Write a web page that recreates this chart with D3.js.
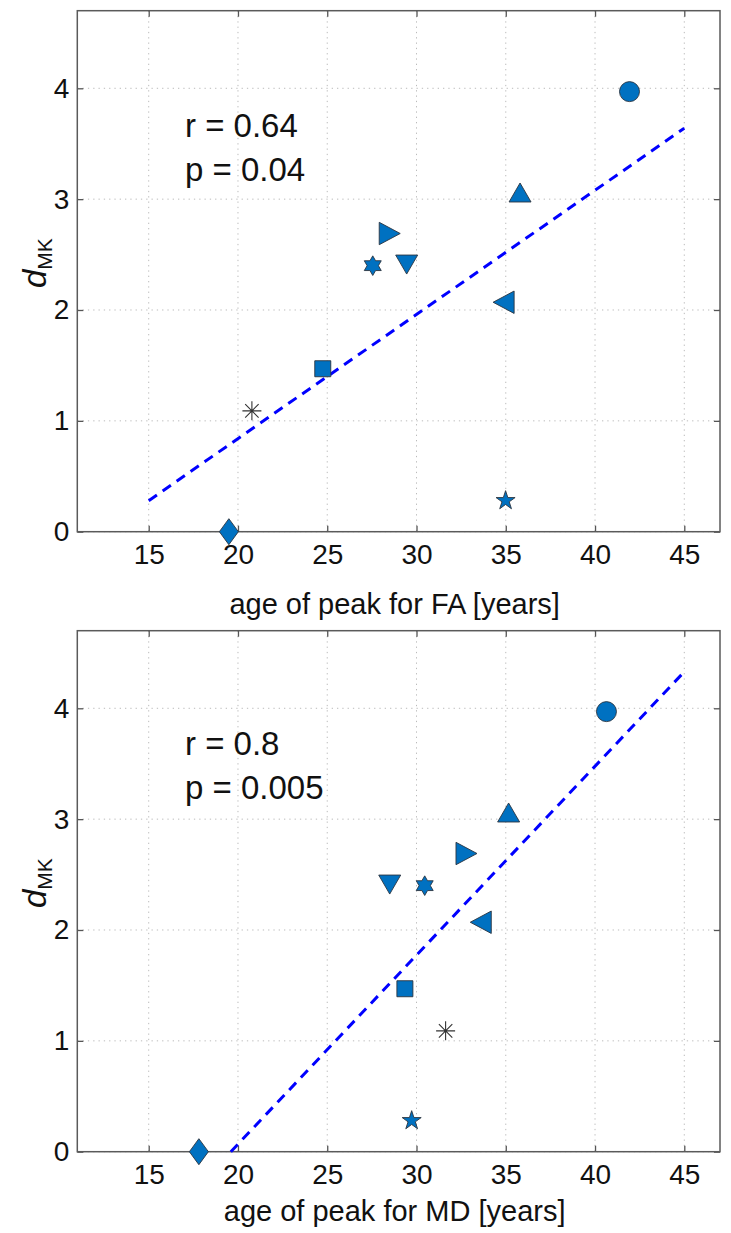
<!DOCTYPE html>
<html><head><meta charset="utf-8">
<script src="https://cdn.jsdelivr.net/npm/d3@7"></script>
<style>
body{margin:0;background:#fff}
text{font-family:"Liberation Sans",Arial,Helvetica,sans-serif;fill:#111}
</style>
</head><body>
<svg id="chart" width="731" height="1233"></svg>
<script>
// ---- data ----
const markerTypes = ["circle","triangleUp","triangleRight","hexagram","triangleDown","triangleLeft","square","asterisk","pentagram","diamond"];
const dMK   = [3.97, 3.06, 2.69, 2.40, 2.41, 2.07, 1.47, 1.09, 0.28, 0.00];
const ageFA = [41.93, 35.80, 28.50, 27.55, 29.45, 34.88, 24.75, 20.78, 34.99, 19.49];
const ageMD = [40.64, 35.16, 32.80, 30.46, 28.50, 33.60, 29.35, 31.63, 29.73, 17.81];
const fitFAx = [15, 45], fitFAy = [0.28, 3.64];
const fitMDx = [19.6, 45], fitMDy = [0.00, 4.33];
const xTicks = [15, 20, 25, 30, 35, 40, 45];
const yTicks = [0, 1, 2, 3, 4];
const xDomain = [11, 47], yDomain = [0, 4.7];
const statsFA = ["r = 0.64", "p = 0.04"];
const statsMD = ["r = 0.8", "p = 0.005"];
const xLabelFA = "age of peak for FA [years]";
const xLabelMD = "age of peak for MD [years]";

// ---- layout ----
const svg = d3.select("#chart");
const left = 77.3, right = 720;
const panels = [
  {top: 10.7, bottom: 531.7, ages: ageFA, fx: fitFAx, fy: fitFAy, stats: statsFA, xlabel: xLabelFA, statY: [137, 181], xlabY: 614},
  {top: 630.7, bottom: 1151.7, ages: ageMD, fx: fitMDx, fy: fitMDy, stats: statsMD, xlabel: xLabelMD, statY: [755, 799], xlabY: 1221}
];
const blue = "#0071c1", edge = "#2b3440";

function markerPath(t){
  const p = d3.path();
  const poly = pts => { p.moveTo(pts[0][0], pts[0][1]); pts.slice(1).forEach(q => p.lineTo(q[0], q[1])); p.closePath(); };
  const star = (n, R, r) => { const pts=[]; for(let i=0;i<2*n;i++){const a=-Math.PI/2+i*Math.PI/n; const rr=i%2?r:R; pts.push([rr*Math.cos(a), rr*Math.sin(a)]);} poly(pts); };
  switch(t){
    case "circle": p.arc(0,0,10,0,2*Math.PI); break;
    case "triangleUp": poly([[0,-9.5],[11,9.5],[-11,9.5]]); break;
    case "triangleDown": poly([[0,9.5],[11,-9.5],[-11,-9.5]]); break;
    case "triangleRight": poly([[10.5,0],[-10.5,-11.2],[-10.5,11.2]]); break;
    case "triangleLeft": poly([[-10.5,0],[10.5,-11.2],[10.5,11.2]]); break;
    case "square": poly([[-8,-8],[8,-8],[8,8],[-8,8]]); break;
    case "diamond": poly([[0,-13],[9.5,0],[0,13],[-9.5,0]]); break;
    case "pentagram": star(5, 10, 10*0.382); break;
    case "hexagram": star(6, 9.8, 9.8/Math.sqrt(3)); break;
    case "asterisk":
      for (let k=0;k<4;k++){const a=k*Math.PI/4; p.moveTo(-9.5*Math.cos(a),-9.5*Math.sin(a)); p.lineTo(9.5*Math.cos(a),9.5*Math.sin(a));}
      break;
  }
  return p.toString();
}

panels.forEach(P => {
  const x = d3.scaleLinear().domain(xDomain).range([left, right]);
  const y = d3.scaleLinear().domain(yDomain).range([P.bottom, P.top]);
  const g = svg.append("g");

  // grid
  g.append("g").selectAll("line").data(xTicks).join("line")
    .attr("x1", d => x(d)).attr("x2", d => x(d)).attr("y1", P.top).attr("y2", P.bottom)
    .attr("stroke", "#bbbbbb").attr("stroke-width", 1).attr("stroke-dasharray", "1.3,4");
  g.append("g").selectAll("line").data(yTicks).join("line")
    .attr("y1", d => y(d)).attr("y2", d => y(d)).attr("x1", left).attr("x2", right)
    .attr("stroke", "#bbbbbb").attr("stroke-width", 1).attr("stroke-dasharray", "1.3,4");

  // axes with inward ticks
  const axB = d3.axisBottom(x).tickValues(xTicks).tickSize(-6).tickPadding(12).tickFormat(d3.format("d"));
  const axT = d3.axisTop(x).tickValues(xTicks).tickSize(-6).tickFormat("");
  const axL = d3.axisLeft(y).tickValues(yTicks).tickSize(-6).tickPadding(8).tickFormat(d3.format("d"));
  const axR = d3.axisRight(y).tickValues(yTicks).tickSize(-6).tickFormat("");
  const style = sel => { sel.select(".domain").remove(); sel.selectAll(".tick line").attr("stroke", "#555").attr("stroke-width", 1.3);
    sel.selectAll(".tick text").attr("font-size", 28).attr("font-family", "Liberation Sans, Arial, sans-serif").attr("fill", "#111"); };
  g.append("g").attr("transform", `translate(0,${P.bottom})`).call(axB).call(style);
  g.append("g").attr("transform", `translate(0,${P.top})`).call(axT).call(style);
  g.append("g").attr("transform", `translate(${left},0)`).call(axL).call(style);
  g.append("g").attr("transform", `translate(${right},0)`).call(axR).call(style);
  g.append("rect").attr("x", left).attr("y", P.top).attr("width", right - left).attr("height", P.bottom - P.top)
    .attr("fill", "none").attr("stroke", "#5a5a5a").attr("stroke-width", 1.5);

  // fit line
  g.append("path").datum(P.fx.map((v, i) => [v, P.fy[i]]))
    .attr("d", d3.line().x(d => x(d[0])).y(d => y(d[1])))
    .attr("fill", "none").attr("stroke", "#0000ff").attr("stroke-width", 3).attr("stroke-dasharray", "10,7");

  // markers
  g.append("g").selectAll("path").data(markerTypes.map((t, i) => ({t, a: P.ages[i], v: dMK[i]}))).join("path")
    .attr("transform", d => `translate(${x(d.a)},${y(d.v)})`)
    .attr("d", d => markerPath(d.t))
    .attr("fill", d => d.t === "asterisk" ? "none" : blue)
    .attr("stroke", d => d.t === "asterisk" ? "#333" : edge)
    .attr("stroke-width", d => d.t === "asterisk" ? 1.1 : 0.9);

  // stats text
  P.stats.forEach((s, i) => g.append("text").attr("x", 185).attr("y", P.statY[i]).attr("font-size", 33).text(s));

  // x label
  g.append("text").attr("x", (left + right) / 2 - 4).attr("y", P.xlabY).attr("text-anchor", "middle").attr("font-size", 29).text(P.xlabel);

  // y label
  const yl = g.append("text").attr("transform", `translate(46,${(P.top + P.bottom) / 2 - 8}) rotate(-90)`).attr("text-anchor", "middle");
  yl.append("tspan").attr("font-style", "italic").attr("font-size", 33).text("d");
  yl.append("tspan").attr("font-size", 21).attr("dy", 6).text("MK");
});
</script>
</body></html>
